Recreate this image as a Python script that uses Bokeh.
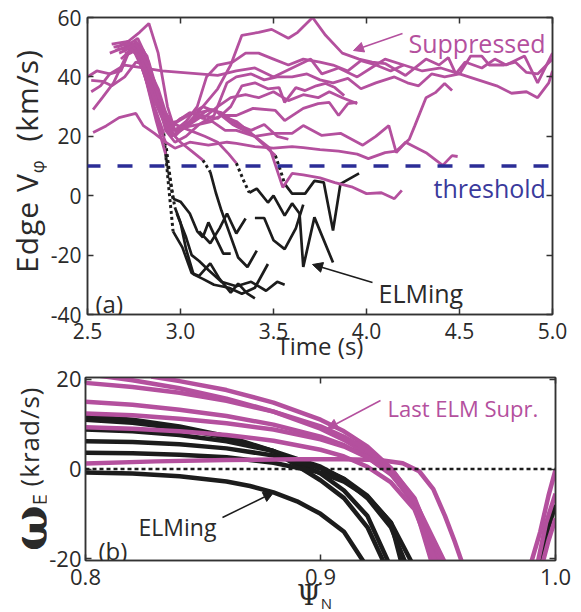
import math
from bokeh.plotting import figure
from bokeh.layouts import column, row
from bokeh.models import (Range1d, LinearAxis, FixedTicker, Label, Arrow, NormalHead, Span, Div)
from bokeh.embed import file_html
from bokeh.resources import INLINE

# ---------------- data: panel (a) edge toroidal rotation vs time ----------------
a_xticks = [2.5, 3.0, 3.5, 4.0, 4.5, 5.0]
a_xlabels = ["2.5", "3.0", "3.5", "4.0", "4.5", "5.0"]
a_yticks = [-40, -20, 0, 20, 40, 60]
a_ylabels = ["-40", "-20", "0", "20", "40", "60"]
threshold = 10

sup01_t = [2.50, 2.55, 2.62, 2.70, 2.80, 2.90, 3.00, 3.10, 3.20, 3.30, 3.40, 3.50, 3.60, 3.70, 3.76, 3.85, 3.95, 4.05, 4.10, 4.20, 4.30, 4.40, 4.50, 4.60, 4.70, 4.78, 4.86, 4.92, 4.98, 5.00]
sup01_v = [40, 42, 41, 44, 43, 42, 41.5, 41, 40.5, 42, 43, 40, 43, 46, 41, 43, 40, 44, 46, 44, 42, 43, 41, 39, 37, 34.5, 35, 33, 38, 42]
sup02_t = [2.63, 2.72, 2.78, 2.85, 2.92, 2.98, 3.05, 3.12, 3.20, 3.27, 3.33, 3.42, 3.49, 3.58, 3.63, 3.71, 3.78, 3.87, 3.96, 4.03, 4.10, 4.21, 4.32, 4.39, 4.44, 4.48, 4.53, 4.62, 4.69, 4.75, 4.85, 4.92, 5.00]
sup02_v = [51, 52, 48, 38, 24, 22, 25, 30, 36, 44, 54, 55, 56, 53, 55, 60, 54, 48, 46, 45, 44.5, 40.5, 46, 44, 46.5, 41, 45, 43, 46, 44, 47, 38, 48]
sup03_t = [2.52, 2.58, 2.63, 2.70, 2.76, 2.82, 2.88, 2.93, 2.98, 3.05, 3.12, 3.20, 3.27, 3.33, 3.40, 3.47, 3.53, 3.56, 3.62, 3.67, 3.73, 3.78, 3.83, 3.88]
sup03_v = [38.8, 38.5, 37, 40, 45, 44, 36, 26, 21, 24, 27, 26, 30, 37, 38, 36, 36.4, 31.4, 36.4, 35.4, 37, 37.8, 36.4, 33.7]
sup04_t = [2.52, 2.57, 2.62, 2.68, 2.74, 2.80, 2.86, 2.92, 2.97, 3.03, 3.10, 3.17, 3.24, 3.30, 3.39, 3.51, 3.56, 3.66, 3.74, 3.80, 3.85, 3.90, 3.95]
sup04_v = [35, 37, 41, 42, 51, 49, 38, 26, 20, 24, 28, 29, 27, 27, 29.4, 28.7, 25.3, 29.4, 31, 31.4, 27, 31, 31.4]
sup05_t = [2.53, 2.58, 2.64, 2.70, 2.76, 2.82, 2.87, 2.92, 2.97, 3.03, 3.10, 3.17, 3.24, 3.30, 3.40, 3.50, 3.60, 3.66, 3.76, 3.86, 3.98, 4.05, 4.12, 4.16, 4.21, 4.32, 4.41, 4.46, 4.49]
sup05_v = [29, 33, 38, 46, 52, 47, 34, 22, 18, 20, 24, 25, 22, 22, 20, 21, 21, 23.6, 20.3, 21, 17, 20, 23.6, 14.5, 18, 14.5, 10.2, 13.5, 13.2]
sup06_t = [2.53, 2.60, 2.67, 2.76, 2.80, 2.86, 2.92, 2.97, 3.05, 3.15, 3.25, 3.30, 3.40, 3.50, 3.60, 3.66, 3.75, 3.85, 3.95, 4.01, 4.10, 4.16, 4.23, 4.26, 4.32, 4.37, 4.42, 4.46]
sup06_v = [21.3, 23.5, 26.3, 27.7, 23.6, 21, 18, 16, 18, 17, 18, 17.6, 16.5, 16, 16.5, 16.2, 15.5, 15, 14, 12.5, 14.5, 15, 19, 23.6, 33, 34.7, 37.8, 35.4]
sup07_t = [2.66, 2.72, 2.78, 2.83, 2.88, 2.93, 2.97, 3.03, 3.09, 3.14, 3.20, 3.28, 3.35, 3.42, 3.50, 3.58, 3.66, 3.75, 3.82, 3.90, 3.97, 4.05, 4.13, 4.20]
sup07_v = [50, 52, 55, 58, 48, 30, 22, 25, 30, 40, 44, 45, 48, 48, 46, 44, 46, 45, 44, 42, 45.5, 44, 42, 44]
sup08_t = [2.62, 2.70, 2.77, 2.83, 2.89, 2.95, 3.02, 3.10, 3.18, 3.25, 3.30, 3.38, 3.45, 3.52, 3.60, 3.68, 3.75, 3.82, 3.90, 3.97, 4.05, 4.15, 4.22, 4.28, 4.35, 4.42, 4.50, 4.56, 4.62, 4.66, 4.74, 4.80, 4.86, 4.92, 5.00]
sup08_v = [48, 50, 53, 45, 32, 22, 23, 24, 27, 38, 40, 41, 39, 40, 40, 41, 39, 38, 39.5, 36, 38, 40, 38, 37, 41, 40, 41, 47, 47, 44, 44, 45, 41.5, 41, 46]
sup09_t = [2.64, 2.72, 2.78, 2.84, 2.90, 2.95, 3.00, 3.08, 3.15, 3.22, 3.30, 3.38, 3.45, 3.52, 3.58]
sup09_v = [50, 51, 50, 40, 28, 20, 22, 26, 29, 28, 24, 22, 24, 20, 19]
sup10_t = [2.65, 2.73, 2.79, 2.86, 2.92, 2.98, 3.05, 3.12, 3.20, 3.27, 3.35, 3.42, 3.50, 3.58, 3.66, 3.74, 3.80, 3.87, 3.95]
sup10_v = [49, 50, 48, 36, 24, 25, 28, 26, 30, 33, 34, 33, 35, 32, 34, 33, 35, 33, 31]
sup11_t = [2.67, 2.74, 2.80, 2.86, 2.91]
sup11_v = [48, 50, 42, 30, 21]
sup12_t = [2.70, 2.76, 2.82, 2.87, 2.92]
sup12_v = [47, 49, 38, 26, 18]
sup13_t = [2.69, 2.75, 2.81, 2.87, 2.92]
sup13_v = [49, 51, 40, 25, 14]
sup14_t = [2.68, 2.75, 2.82, 2.88, 2.94, 3.00, 3.06, 3.12]
sup14_v = [46, 50, 42, 30, 22, 18, 15, 12]
sup15_t = [2.70, 2.77, 2.84, 2.90, 2.97, 3.05, 3.13, 3.20, 3.26, 3.30]
sup15_v = [48, 49, 38, 27, 24, 22, 20, 18, 14, 11]
sup16_t = [2.72, 2.79, 2.86, 2.93, 3.00, 3.08, 3.15, 3.22, 3.30, 3.38, 3.45, 3.51]
sup16_v = [50, 46, 32, 22, 26, 28, 25, 27, 25, 21, 17, 13.5]
sup17_t = [2.69, 2.76, 2.83, 2.90, 2.96, 3.04, 3.12, 3.20, 3.28, 3.34, 3.40, 3.48, 3.55, 3.60, 3.66, 3.75, 3.83, 3.92, 4.00, 4.08, 4.15, 4.19]
sup17_v = [49, 51, 43, 30, 24, 27, 30, 28, 24, 22, 20, 16, 2.8, 7.5, 7, 6, 4.4, 3, 0.7, 1, -1, 1.8]

# ELMing discharges: dotted transition + solid ELMing phase
elm1_dt = [2.91, 2.935, 2.96]
elm1_dv = [21, 4, -12]
elm1_t = [2.96, 3.01, 3.06, 3.10, 3.16, 3.21, 3.27, 3.31, 3.36, 3.40]
elm1_v = [-12, -17.4, -26, -27, -22.8, -28, -32.6, -29.6, -33, -34.6]
elm2_dt = [2.92, 2.94, 2.96]
elm2_dv = [18, 8, -1]
elm2_t = [2.96, 3.00, 3.05, 3.09, 3.12, 3.15, 3.18, 3.23, 3.27]
elm2_v = [-1, -2, -6, -12, -14, -9, -13, -19.5, -19.5]
elm3_dt = [2.92, 2.95, 2.97]
elm3_dv = [14, 3, -4]
elm3_t = [2.97, 3.00, 3.03, 3.07, 3.12, 3.18, 3.26, 3.33, 3.40, 3.47]
elm3_v = [-4, -9, -18, -26.5, -28, -30, -31, -33, -31, -23]
elm4_t = [2.98, 3.03, 3.06, 3.10, 3.15, 3.22, 3.30, 3.38, 3.46, 3.52, 3.56]
elm4_v = [-6, -14, -20, -22, -25, -29, -30.5, -29, -32, -29, -30]
elm5_dt = [3.12, 3.14, 3.16]
elm5_dv = [12, 10, 8]
elm5_t = [3.16, 3.19, 3.22, 3.26, 3.31, 3.36, 3.41]
elm5_v = [8, 1, -5, -12, -20.8, -24, -18.5]
elm6_t = [3.10, 3.16, 3.21, 3.25, 3.30, 3.35]
elm6_v = [-12, -16, -11, -6, -12.7, -7.7]
elm7_dt = [3.30, 3.34, 3.37]
elm7_dv = [11, 5, 1]
elm7_t = [3.37, 3.41, 3.47, 3.50, 3.56, 3.60, 3.64, 3.66, 3.72, 3.82]
elm7_v = [1, 2.4, -2.3, 0, -6.7, -2.6, -6, -24, -7.3, -22.5]
elm8_t = [3.40, 3.45, 3.50, 3.56, 3.62, 3.66]
elm8_v = [-7.5, -7.5, -15, -18, -11, -3]
elm9_dt = [3.51, 3.54, 3.56]
elm9_dv = [13.5, 8, 4]
elm9_t = [3.56, 3.60, 3.67, 3.72, 3.77, 3.82, 3.86, 3.96]
elm9_v = [4, 0.7, 0.7, 5, 4.5, -11.7, 4, 7.5]

# ---------------- data: panel (b) omega_E profiles vs psi_N ----------------
b_xticks = [0.8, 0.9, 1.0]
b_xlabels = ["0.8", "0.9", "1.0"]
b_yticks = [-20, 0, 20]
b_ylabels = ["-20", "0", "20"]

last1_psi = [0.806, 0.82, 0.84, 0.86, 0.88, 0.90, 0.91, 0.92, 0.93, 0.94, 0.948]
last1_w = [20.8, 19.8, 18.0, 15.7, 12.8, 9.0, 6.5, 3.3, -1.0, -8.0, -22]
last2_psi = [0.828, 0.84, 0.86, 0.88, 0.90, 0.91, 0.92, 0.93, 0.94, 0.951]
last2_w = [20.6, 19.6, 17.6, 14.8, 11.0, 8.4, 5.0, 0.2, -7.0, -22]
last3_psi = [0.80, 0.82, 0.84, 0.86, 0.88, 0.90, 0.91, 0.92, 0.93, 0.94, 0.952]
last3_w = [19.2, 18.3, 17.0, 15.2, 12.8, 9.5, 7.2, 4.2, 0.0, -6.5, -22]
last4_psi = [0.80, 0.82, 0.84, 0.86, 0.88, 0.90, 0.91, 0.92, 0.93, 0.94, 0.953]
last4_w = [15.0, 14.3, 13.2, 11.8, 9.9, 7.2, 5.3, 2.6, -1.2, -7.4, -22]
last5_psi = [0.80, 0.82, 0.84, 0.86, 0.88, 0.90, 0.91, 0.92, 0.93, 0.94, 0.954]
last5_w = [12.4, 12.0, 11.2, 10.2, 8.8, 6.6, 5.0, 2.6, -1.0, -7.0, -22]
last6_psi = [0.80, 0.82, 0.84, 0.86, 0.88, 0.90, 0.91, 0.92, 0.93, 0.94, 0.950]
last6_w = [9.3, 9.0, 8.4, 7.6, 6.3, 4.3, 2.8, 0.5, -3.0, -9.0, -22]
last7_psi = [0.80, 0.83, 0.86, 0.89, 0.91, 0.925, 0.935, 0.942, 0.948, 0.953, 0.957, 0.961, 0.963]
last7_w = [1.2, 1.7, 2.0, 2.2, 2.2, 2.0, 1.3, -0.5, -4.5, -10.5, -16, -22, -25]
last8_psi = [0.989, 0.9935, 0.997, 1.0]
last8_w = [-22, -14, -6, -0.2]
last9_psi = [0.992, 0.996, 1.0]
last9_w = [-22, -12, -5.5]
last10_psi = [0.994, 0.997, 1.0]
last10_w = [-22, -16, -11]

elmb1_psi = [0.80, 0.82, 0.84, 0.86, 0.88, 0.90, 0.91, 0.92, 0.928]
elmb1_w = [11.8, 11.0, 9.5, 7.3, 4.0, -2.5, -6.5, -13, -22]
elmb2_psi = [0.80, 0.82, 0.84, 0.86, 0.88, 0.90, 0.91, 0.92, 0.930]
elmb2_w = [11.0, 10.3, 9.0, 7.0, 4.0, -1.0, -4.8, -10.5, -22]
elmb3_psi = [0.80, 0.82, 0.84, 0.86, 0.88, 0.90, 0.91, 0.92, 0.93, 0.937]
elmb3_w = [8.8, 8.4, 7.6, 6.2, 4.0, 0.5, -2.3, -6.5, -13, -22]
elmb4_psi = [0.80, 0.82, 0.84, 0.86, 0.88, 0.90, 0.91, 0.92, 0.93, 0.935]
elmb4_w = [6.2, 6.0, 5.5, 4.6, 3.0, 0.2, -2.2, -6.0, -12, -22]
elmb5_psi = [0.80, 0.82, 0.84, 0.86, 0.88, 0.90, 0.91, 0.92, 0.93, 0.940]
elmb5_w = [3.6, 3.5, 3.2, 2.6, 1.4, -0.8, -2.8, -6.2, -12, -22]
elmb6_psi = [0.80, 0.82, 0.84, 0.86, 0.87, 0.88, 0.89, 0.90, 0.91, 0.92]
elmb6_w = [-0.8, -1.0, -1.6, -2.8, -3.8, -5.2, -7.2, -10, -14, -22]
elmb7_psi = [0.993, 0.997, 1.0]
elmb7_w = [-22, -13, -8]

# ---------------- styling ----------------
MAG = "#B4509E"
BLK = "#1c1c1c"
NAVY = "#2B2D96"
TXT = "#2a2a2a"
FONT = "Open Sans"
LW = 46          # width of the left label strips
ROW1_H = 361     # height of panel (a) row


def style_axis(ax, ticks, labels=None, size="21px", standoff=7):
    ax.ticker = FixedTicker(ticks=ticks)
    ax.major_tick_in = 6
    ax.major_tick_out = 0
    ax.minor_tick_line_color = None
    ax.major_tick_line_color = "#333333"
    ax.major_tick_line_width = 1.5
    ax.axis_line_color = "#333333"
    ax.axis_line_width = 1.5
    ax.major_label_text_font = FONT
    ax.major_label_text_font_size = size
    ax.major_label_text_color = TXT
    if labels is not None:
        ax.major_label_overrides = {t: s for t, s in zip(ticks, labels)}
        ax.major_label_standoff = standoff
    else:
        ax.major_label_overrides = {t: "" for t in ticks}
        ax.major_label_standoff = 0


def html_div(inner, w, h):
    return Div(text=inner, width=w, height=h, margin=(0, 0, 0, 0), styles={"overflow": "visible"})


# ---------------- panel (a) ----------------
A_L, A_T, A_W, A_H = 87, 17, 465, 297
pa = figure(frame_width=A_W, frame_height=A_H, x_range=Range1d(2.5, 5.0), y_range=Range1d(-40, 60),
            output_backend="svg", toolbar_location=None,
            min_border_left=A_L - LW, min_border_right=20, min_border_top=A_T,
            min_border_bottom=ROW1_H - A_T - A_H)
pa.xgrid.visible = False
pa.ygrid.visible = False
pa.outline_line_color = "#333333"
pa.outline_line_width = 1.5
style_axis(pa.xaxis[0], a_xticks, a_xlabels, size="21px", standoff=8)
style_axis(pa.yaxis[0], a_yticks, a_ylabels, size="21px", standoff=6)
pa.xaxis[0].axis_label = "Time (s)"
pa.xaxis[0].axis_label_text_font = FONT
pa.xaxis[0].axis_label_text_font_size = "24px"
pa.xaxis[0].axis_label_text_font_style = "normal"
pa.xaxis[0].axis_label_text_color = TXT
pa.xaxis[0].axis_label_standoff = -13
top_a = LinearAxis()
style_axis(top_a, a_xticks)
pa.add_layout(top_a, "above")
right_a = LinearAxis()
style_axis(right_a, a_yticks)
pa.add_layout(right_a, "right")

elm_dotted = [(elm1_dt, elm1_dv), (elm2_dt, elm2_dv), (elm3_dt, elm3_dv), (elm5_dt, elm5_dv),
              (elm7_dt, elm7_dv), (elm9_dt, elm9_dv)]
elm_solid = [(elm1_t, elm1_v), (elm2_t, elm2_v), (elm3_t, elm3_v), (elm4_t, elm4_v), (elm5_t, elm5_v),
             (elm6_t, elm6_v), (elm7_t, elm7_v), (elm8_t, elm8_v), (elm9_t, elm9_v)]
sup_series = [(sup01_t, sup01_v), (sup02_t, sup02_v), (sup03_t, sup03_v), (sup04_t, sup04_v),
              (sup05_t, sup05_v), (sup06_t, sup06_v), (sup07_t, sup07_v), (sup08_t, sup08_v),
              (sup09_t, sup09_v), (sup10_t, sup10_v), (sup11_t, sup11_v), (sup12_t, sup12_v),
              (sup13_t, sup13_v), (sup14_t, sup14_v), (sup15_t, sup15_v), (sup16_t, sup16_v),
              (sup17_t, sup17_v)]

for t, v in elm_dotted:
    pa.line(t, v, line_color=BLK, line_width=3, line_dash="3 3")
for t, v in elm_solid:
    pa.line(t, v, line_color=BLK, line_width=2.7)
for t, v in sup_series:
    pa.line(t, v, line_color=MAG, line_width=2.8)

pa.add_layout(Span(location=threshold, dimension="width", line_color=NAVY, line_width=3.5,
                   line_dash="15 17", line_dash_offset=2))


def pxa(px):
    return 2.5 + (px - A_L) / (A_W / 2.5)

def pya(py):
    return 60 - (py - A_T) / (A_H / 100.0)

pa.add_layout(Label(x=pxa(408), y=pya(42), text="Suppressed", text_font=FONT, text_font_size="25px",
                    text_color=MAG, text_baseline="alphabetic"))
pa.add_layout(Arrow(x_start=pxa(402), y_start=pya(33), x_end=pxa(353), y_end=pya(50),
                    line_color=MAG, line_width=1.5,
                    end=NormalHead(size=10, fill_color=MAG, line_color=MAG)))
pa.add_layout(Label(x=pxa(433), y=pya(187), text="threshold", text_font=FONT, text_font_size="25px",
                    text_color="#3a3a9c", text_baseline="alphabetic"))
pa.add_layout(Label(x=pxa(378), y=pya(292), text="ELMing", text_font=FONT, text_font_size="25px",
                    text_color=TXT, text_baseline="alphabetic"))
pa.add_layout(Arrow(x_start=pxa(372), y_start=pya(282), x_end=pxa(312), y_end=pya(264),
                    line_color=BLK, line_width=1.5,
                    end=NormalHead(size=10, fill_color=BLK, line_color=BLK)))
pa.add_layout(Label(x=pxa(95), y=pya(303), text="(a)", text_font=FONT, text_font_size="24px",
                    text_color=TXT, text_baseline="alphabetic"))

la = html_div(
    '<div style="position:absolute; left:12px; top:273px; transform-origin:0 0; transform:rotate(-90deg); '
    'white-space:nowrap; font-family:\'Open Sans\'; font-size:30px; line-height:30px; letter-spacing:1px; '
    'color:#2a2a2a;">'
    'Edge V<span style="font-size:18px; line-height:0; vertical-align:-6px;">φ</span>'
    '&nbsp;&nbsp;(km/s)</div>', LW, ROW1_H)

# ---------------- panel (b) ----------------
B_L, B_T, B_W, B_H, B_BOT = 82, 13, 470, 183, 38
ROW2_H = B_T + B_H + B_BOT
B_TOP = ROW1_H + B_T
pb = figure(frame_width=B_W, frame_height=B_H, x_range=Range1d(0.8, 1.0), y_range=Range1d(-20.4, 20.4),
            output_backend="svg", toolbar_location=None,
            min_border_left=B_L - LW, min_border_right=20, min_border_top=B_T, min_border_bottom=B_BOT)
pb.xgrid.visible = False
pb.ygrid.visible = False
pb.outline_line_color = "#333333"
pb.outline_line_width = 1.5
style_axis(pb.xaxis[0], b_xticks, b_xlabels, size="22px", standoff=8)
style_axis(pb.yaxis[0], b_yticks, b_ylabels, size="22px", standoff=4)
top_b = LinearAxis()
style_axis(top_b, b_xticks)
pb.add_layout(top_b, "above")
right_b = LinearAxis()
style_axis(right_b, b_yticks)
pb.add_layout(right_b, "right")

elm_b = [(elmb1_psi, elmb1_w), (elmb2_psi, elmb2_w), (elmb3_psi, elmb3_w), (elmb4_psi, elmb4_w),
         (elmb5_psi, elmb5_w), (elmb6_psi, elmb6_w), (elmb7_psi, elmb7_w)]
last_b = [(last1_psi, last1_w), (last2_psi, last2_w), (last3_psi, last3_w), (last4_psi, last4_w),
          (last5_psi, last5_w), (last6_psi, last6_w), (last7_psi, last7_w), (last8_psi, last8_w),
          (last9_psi, last9_w), (last10_psi, last10_w)]
for x, w in elm_b:
    pb.line(x, w, line_color=BLK, line_width=4.5)
pb.add_layout(Span(location=0, dimension="width", line_color=BLK, line_width=2.5, line_dash="4 3"))
for x, w in last_b:
    pb.line(x, w, line_color=MAG, line_width=4.5)


def pxb(px):
    return 0.8 + (px - B_L) / (B_W / 0.2)

def pyb(py):
    return 20.4 - (py - B_TOP) / (B_H / 40.8)

pb.add_layout(Label(x=pxb(384), y=pyb(404), text="Last ELM Supr.", text_font=FONT, text_font_size="22px",
                    text_color=MAG, text_baseline="alphabetic"))
pb.add_layout(Arrow(x_start=pxb(377), y_start=pyb(397), x_end=pxb(324), y_end=pyb(425),
                    line_color=MAG, line_width=1.5,
                    end=NormalHead(size=10, fill_color=MAG, line_color=MAG)))
pb.add_layout(Label(x=pxb(135), y=pyb(523), text="ELMing", text_font=FONT, text_font_size="23px",
                    text_color=TXT, text_baseline="alphabetic"))
pb.add_layout(Arrow(x_start=pxb(219), y_start=pyb(514), x_end=pxb(270), y_end=pyb(489),
                    line_color=BLK, line_width=1.5,
                    end=NormalHead(size=10, fill_color=BLK, line_color=BLK)))
pb.add_layout(Label(x=pxb(95), y=pyb(547), text="(b)", text_font=FONT, text_font_size="24px",
                    text_color=TXT, text_baseline="alphabetic"))

lb = html_div(
    '<div style="position:absolute; left:24px; top:' + str(548 - ROW1_H) + 'px; transform-origin:0 0; '
    'transform:rotate(-90deg); white-space:nowrap; font-family:\'Open Sans\'; font-size:26px; '
    'line-height:26px; color:#2a2a2a;">'
    '<span style="font-family:\'DejaVu Serif\'; font-weight:bold; font-size:48px; line-height:0;">ω</span>'
    '<span style="font-size:20px; line-height:0;">E</span>'
    '<span style="line-height:0; vertical-align:8px; letter-spacing:1px;">&nbsp;(krad/s)</span></div>',
    LW, ROW2_H)

# bottom label (Psi_N) as HTML so the subscript is a real subscript
BOT_H = 608 - ROW1_H - ROW2_H
xlab_b = html_div(
    '<div style="position:absolute; left:297px; top:-16px; white-space:nowrap; color:#2a2a2a; '
    'font-family:\'DejaVu Serif\'; font-size:27px; line-height:1;">'
    'Ψ<span style="font-family:\'Open Sans\'; font-size:15px; line-height:0; vertical-align:-4px;">N</span>'
    '</div>', LW + 526, BOT_H)

layout = column(row(la, pa, spacing=0), row(lb, pb, spacing=0), xlab_b, spacing=0)
open("out.html", "w").write(file_html(layout, INLINE))
